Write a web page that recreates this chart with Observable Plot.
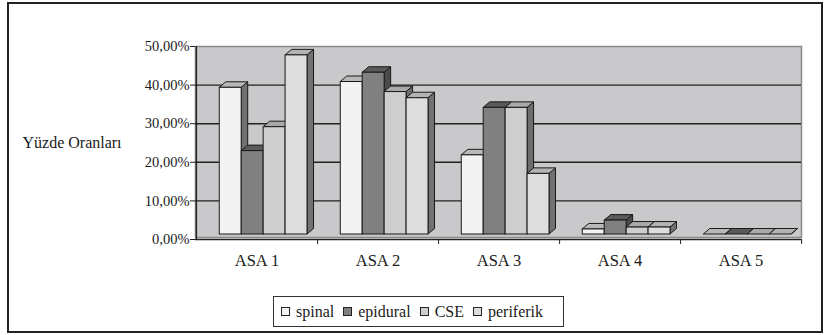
<!DOCTYPE html>
<html>
<head>
<meta charset="utf-8">
<script src="https://cdn.jsdelivr.net/npm/d3@7"></script>
<script src="https://cdn.jsdelivr.net/npm/@observablehq/plot@0.6"></script>
<style>
  html, body { margin: 0; padding: 0; background: #fff; }
  #wrap { position: relative; width: 826px; height: 335px; overflow: hidden; font-family: "Liberation Serif", "Times New Roman", serif; color: #1a1a1a; }
  #border { position: absolute; left: 7px; top: 2px; width: 812px; height: 327px; border: 2px solid #222; }
  #chart { position: absolute; left: 0; top: 0; }
  #legend { position: absolute; left: 273px; top: 296px; width: 282px; height: 29px; border: 1.5px solid #333; background: #fff;
            padding-left: 7px; display: flex; align-items: center; justify-content: flex-start; gap: 9px; font-size: 16px; white-space: nowrap; }
  #legend .item { display: flex; align-items: center; gap: 6px; }
  #legend .sw { width: 7px; height: 7px; border: 1px solid #222; display: inline-block; }
</style>
</head>
<body>
<div id="wrap">
  <div id="border"></div>
  <div id="chart"></div>
  <div id="legend"></div>
</div>
<script>
// ---- data ----
const groups = ["ASA 1", "ASA 2", "ASA 3", "ASA 4", "ASA 5"];
const seriesNames = ["spinal", "epidural", "CSE", "periferik"];
const spinal    = [39.3, 40.8, 21.8, 2.6, 0];
const epidural  = [22.9, 43.2, 34.1, 4.9, 0];
const cse       = [29.1, 38.2, 34.1, 3.1, 0];
const periferik = [47.7, 36.6, 17.0, 3.1, 0];
const yTicks = [0, 10, 20, 30, 40, 50];
const yLabel = "Yüzde Oranları";

// ---- styles ----
const frontColors = ["#f3f3f3", "#808080", "#cecece", "#dddddd"];
const topColors   = ["#b8b8b8", "#5a5a5a", "#a9a9a9", "#b3b3b3"];
const sideColors  = ["#707070", "#4a4a4a", "#6d6d6d", "#727272"];
const serif = "'Liberation Serif', 'Times New Roman', serif";

const seriesValues = [spinal, epidural, cse, periferik];
const rows = [];
groups.forEach((g, gi) => seriesNames.forEach((s, j) => rows.push({group: g, series: s, j, value: seriesValues[j][gi]})));

const W = 826, H = 285;
const mL = 195, mR = 25, mT = 46, mB = 46;
const bw = (W - mL - mR) / groups.length;
const OFF = 0.192, BW = 0.181, DX = 6.5, DY = 5.5, FLOOR = 5;

function render3d(index, scales, values, dims) {
  const band = (dims.width - dims.marginLeft - dims.marginRight) / groups.length;
  const g = d3.create("svg:g").attr("stroke", "#1a1a1a").attr("stroke-width", 1).attr("stroke-linejoin", "miter");
  for (const i of index) {
    const j = rows[i].j;
    const x0 = values.x[i] + band * (OFF + j * BW);
    const x1 = x0 + band * BW;
    const yb = values.y1[i] - FLOOR;
    const yt = Math.min(values.y2[i], yb);
    g.append("polygon")
      .attr("points", [[x1, yb], [x1 + DX, yb - DY], [x1 + DX, yt - DY], [x1, yt]].map(p => p.join(",")).join(" "))
      .attr("fill", sideColors[j]);
    g.append("polygon")
      .attr("points", [[x0, yt], [x0 + DX, yt - DY], [x1 + DX, yt - DY], [x1, yt]].map(p => p.join(",")).join(" "))
      .attr("fill", topColors[j]);
    if (yb - yt > 0) {
      g.append("rect").attr("x", x0).attr("y", yt).attr("width", x1 - x0).attr("height", yb - yt)
        .attr("fill", frontColors[j]);
    }
  }
  return g.node();
}

const fmt = v => v.toFixed(2).replace(".", ",") + "%";

const chart = Plot.plot({
  width: W, height: H,
  marginLeft: mL, marginRight: mR, marginTop: mT, marginBottom: mB,
  style: {fontFamily: serif, fontSize: "14px", color: "#1a1a1a", background: "transparent"},
  x: {type: "band", domain: groups, padding: 0, label: null},
  y: {domain: [0, 50], label: null},
  marks: [
    Plot.frame({fill: "#c9c9cb", stroke: "#8a8a8a", strokeWidth: 1.5, insetBottom: 2}),
    Plot.ruleY(yTicks.filter(t => t > 0 && t < 50), {stroke: "#222", strokeWidth: 1.4}),
    Plot.barY(rows, {x: "group", y1: 0, y2: "value", render: render3d}),
    Plot.ruleY([0], {stroke: "#222", strokeWidth: 1.4}),
    Plot.ruleX([groups[0]], {x: d => d, dx: -bw / 2, y1: 0, y2: 50, stroke: "#222", strokeWidth: 1.4}),
    Plot.axisY({ticks: yTicks, tickFormat: fmt, tickSize: 5, tickPadding: 1, fontSize: 14.5, label: null, stroke: "#222", fontFamily: serif}),
    Plot.axisX({ticks: groups, tickSize: 5, text: null, dx: bw / 2, stroke: "#222"}),
    Plot.axisX({ticks: groups, tickSize: 0, tickPadding: 15, fontSize: 16.5, label: null, fontFamily: serif}),
    Plot.text([yLabel], {frameAnchor: "left", text: d => d, textAnchor: "start", dx: -173, fontSize: 16, fontFamily: serif, letterSpacing: "0.6px"})
  ]
});
document.getElementById("chart").appendChild(chart);

// legend
const leg = document.getElementById("legend");
seriesNames.forEach((s, j) => {
  const it = document.createElement("span");
  it.className = "item";
  const sw = document.createElement("span");
  sw.className = "sw";
  sw.style.background = frontColors[j];
  it.appendChild(sw);
  const t = document.createElement("span");
  t.textContent = s;
  it.appendChild(t);
  leg.appendChild(it);
});
</script>
</body>
</html>
